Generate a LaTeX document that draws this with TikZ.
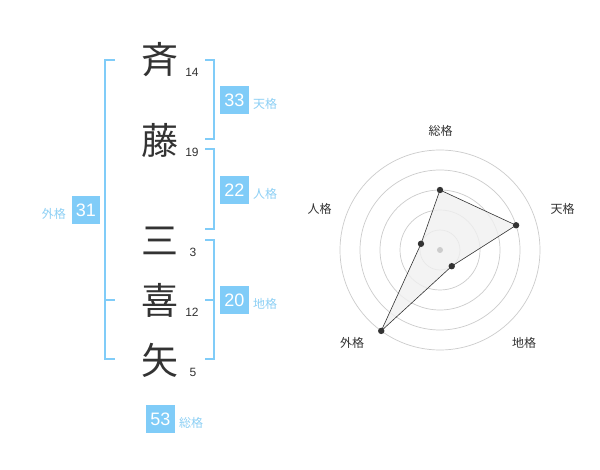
\documentclass[tikz,border=0pt]{standalone}
\usepackage{xcolor}
\usepackage{fontspec}
\setmainfont{Liberation Sans}
\newfontfamily\jp{Noto Sans CJK JP}
\definecolor{sky}{HTML}{80CCF8}
\definecolor{skytext}{HTML}{8DD0F5}
\definecolor{ink}{HTML}{333333}
\definecolor{ringgray}{HTML}{CCCCCC}

\tikzset{
  kanji/.style={font=\jp\fontsize{37}{37}\selectfont, text=ink, inner sep=0pt},
  strokes/.style={font=\fontsize{12}{12}\selectfont, text=ink, inner sep=0pt, anchor=base},
  scorebox/.style={fill=sky, text=white, minimum width=28.5pt, minimum height=28.5pt, inner sep=0pt, font=\fontsize{18}{18}\selectfont},
  kaku/.style={font=\jp\fontsize{12}{12}\selectfont, text=skytext, inner sep=0pt},
  bracket/.style={draw=sky, line width=1.8pt},
  ring/.style={draw=ringgray, line width=0.7pt},
  axislabel/.style={font=\jp\fontsize{12}{12}\selectfont, text=ink, inner sep=0pt},
}

\begin{document}
\begin{tikzpicture}[x=1pt,y=-1pt]
                    \fill[white] (0,0) rectangle (600,470);
                    \useasboundingbox (0,0) rectangle (600,470);

                    \node[kanji] (c1) at (160,60) {斉};
                    \node[kanji] (c2) at (160,140.5) {藤};
                    \node[kanji] (c3) at (160,240.5) {三};
                    \node[kanji] (c4) at (160,300.5) {喜};
                    \node[kanji] (c5) at (160,360.5) {矢};

                    \node[strokes] (s1) at (192,76.7) {14};
                    \node[strokes] (s2) at (192,157) {19};
                    \node[strokes] (s3) at (193,257) {3};
                    \node[strokes] (s4) at (192,317) {12};
                    \node[strokes] (s5) at (193,377) {5};

                    \draw[bracket] (115,60) -- (105,60) -- (105,359.3) -- (115,359.3);
                    \draw[bracket] (105,300) -- (115,300);
                    \draw[bracket] (205,60) -- (214.3,60) -- (214.3,139.3) -- (205,139.3);
                    \draw[bracket] (205,149.3) -- (214.3,149.3) -- (214.3,229.3) -- (205,229.3);
                    \draw[bracket] (205,240) -- (214.3,240) -- (214.3,359.3) -- (205,359.3);
                    \draw[bracket] (205,300) -- (214.3,300);

                    \node[scorebox] (ten) at (234.5,100) {33};
                    \node[kaku, anchor=west] (tenl) at (253,104) {天格};
                    \node[scorebox] (jin) at (234.5,190) {22};
                    \node[kaku, anchor=west] (jinl) at (253,194) {人格};
                    \node[scorebox] (chi) at (234.5,300) {20};
                    \node[kaku, anchor=west] (chil) at (253,304) {地格};
                    \node[scorebox] (gai) at (86,210) {31};
                    \node[kaku, anchor=east] (gail) at (66,214) {外格};
                    \node[scorebox] (sou) at (160.5,419) {53};
                    \node[kaku, anchor=west] (soul) at (179,423) {総格};

                    \begin{scope}[shift={(440,250)}]
                    \draw[ring] (0,0) circle (20pt);
                    \draw[ring] (0,0) circle (40pt);
                    \draw[ring] (0,0) circle (60pt);
                    \draw[ring] (0,0) circle (80pt);
                    \draw[ring] (0,0) circle (100pt);

                    \coordinate (rsou) at (90:60pt);
                    \coordinate (rten) at (18:80pt);
                    \coordinate (rchi) at (-54:20pt);
                    \coordinate (rgai) at (-126:100pt);
                    \coordinate (rjin) at (162:20pt);

                    \filldraw[fill=black!6, fill opacity=0.8, draw=ink, line width=0.6pt] (rsou) -- (rten) -- (rchi) -- (rgai) -- (rjin) -- cycle;
                    \fill[ringgray] (0,0) circle (3pt);
                    \fill[ink] (rsou) circle (3.2pt);
                    \fill[ink] (rten) circle (3.2pt);
                    \fill[ink] (rchi) circle (3.2pt);
                    \fill[ink] (rgai) circle (3.2pt);
                    \fill[ink] (rjin) circle (3.2pt);

                    \node[axislabel] (asou) at (0.5,-119) {総格};
                    \node[axislabel] (aten) at (122.5,-41.5) {天格};
                    \node[axislabel] (ajin) at (-120.5,-41.5) {人格};
                    \node[axislabel] (agai) at (-88,92.7) {外格};
                    \node[axislabel] (achi) at (84,92.7) {地格};
                    \end{scope}
                \end{tikzpicture}
\end{document}
